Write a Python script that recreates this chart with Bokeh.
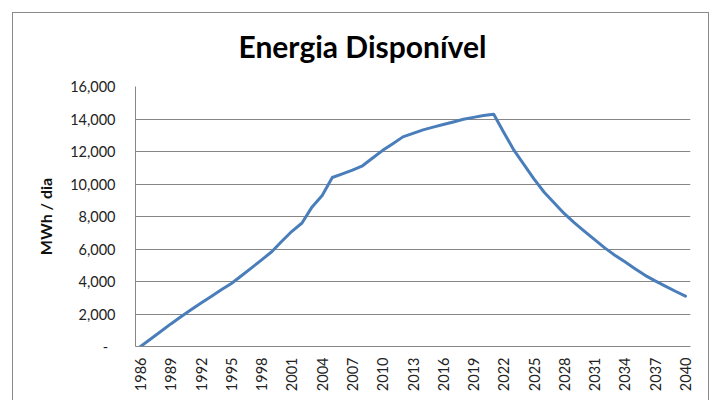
from bokeh.plotting import figure
from bokeh.models import Range1d, FixedTicker
from bokeh.embed import file_html
from bokeh.resources import INLINE

# ---- data ----
years = list(range(1986, 2041))
energia = [
    0, 460, 920, 1390, 1830, 2260, 2670, 3080, 3490, 3880,
    4350, 4840, 5330, 5830, 6480, 7090, 7600, 8590, 9290, 10400,
    10620, 10850, 11120, 11600, 12070, 12480, 12900, 13120, 13330, 13500,
    13660, 13820, 13980, 14100, 14210, 14290, 13170, 12080, 11190, 10300,
    9490, 8830, 8170, 7610, 7090, 6580, 6070, 5620, 5210, 4790,
    4380, 4040, 3720, 3400, 3100,
]
x_tick_years = years[::3]
y_ticks = [0, 2000, 4000, 6000, 8000, 10000, 12000, 14000, 16000]
y_tick_labels = ["-\u00a0\u00a0"] + [f"{t:,}" for t in y_ticks[1:]]
title_text = "Energia Disponível"
y_title = "MWh / dia"

FONT = "Lato"
GRID = "#868686"
BORDER = "#898989"

p = figure(
    width=713, height=400,
    output_backend="svg", toolbar_location=None,
    x_range=Range1d(years[0] - 0.5, years[-1] + 0.5),
    y_range=Range1d(0, 16000),
    min_border_left=135, min_border_right=23,
    min_border_top=86, min_border_bottom=54,
)
p.border_fill_color = None
p.background_fill_color = None
p.outline_line_color = None
p.styles = {
    "background": (
        f"linear-gradient({BORDER},{BORDER}) left 12px top 12px / 1px calc(100% - 12px) no-repeat, "
        f"linear-gradient({BORDER},{BORDER}) left 12px top 12px / calc(100% - 16px) 1px no-repeat, "
        f"linear-gradient({BORDER},{BORDER}) right 4px top 12px / 1px calc(100% - 12px) no-repeat"
    )
}

p.line(years, energia, line_width=3, line_color="#4a7ebb",
       line_join="round", line_cap="round")

# title
p.title.text = title_text
p.title.align = "left"
p.title.offset = 103
p.title.text_font = FONT
p.title.text_font_style = "bold"
p.title.text_font_size = "30px"
p.title.text_color = "#000000"
p.title.vertical_align = "bottom"
p.title.standoff = 46

# x axis
xa = p.xaxis[0]
xa.ticker = FixedTicker(ticks=x_tick_years)
xa.major_label_orientation = 3.141592653589793 / 2
xa.major_tick_out = 0
xa.major_tick_in = 0
xa.minor_tick_out = 0
xa.minor_tick_in = 0
xa.major_label_standoff = 11
xa.axis_line_color = GRID
xa.major_label_text_font = FONT
xa.major_label_text_font_size = "14.5px"
xa.major_label_text_color = "#222222"

# y axis
ya = p.yaxis[0]
ya.ticker = FixedTicker(ticks=y_ticks)
ya.major_label_overrides = {t: lab for t, lab in zip(y_ticks, y_tick_labels)}
ya.major_tick_out = 0
ya.major_tick_in = 0
ya.minor_tick_out = 0
ya.minor_tick_in = 0
ya.major_label_standoff = 20
ya.axis_line_color = GRID
ya.major_label_text_font = FONT
ya.major_label_text_font_size = "14.5px"
ya.major_label_text_color = "#222222"
ya.axis_label = y_title
ya.axis_label_text_font = FONT
ya.axis_label_text_font_style = "bold"
ya.axis_label_text_font_size = "16px"
ya.axis_label_text_color = "#111111"
ya.axis_label_standoff = 12

p.xgrid.visible = False
p.ygrid.grid_line_color = GRID
p.ygrid.grid_line_width = 1

open("out.html", "w").write(file_html(p, INLINE))
